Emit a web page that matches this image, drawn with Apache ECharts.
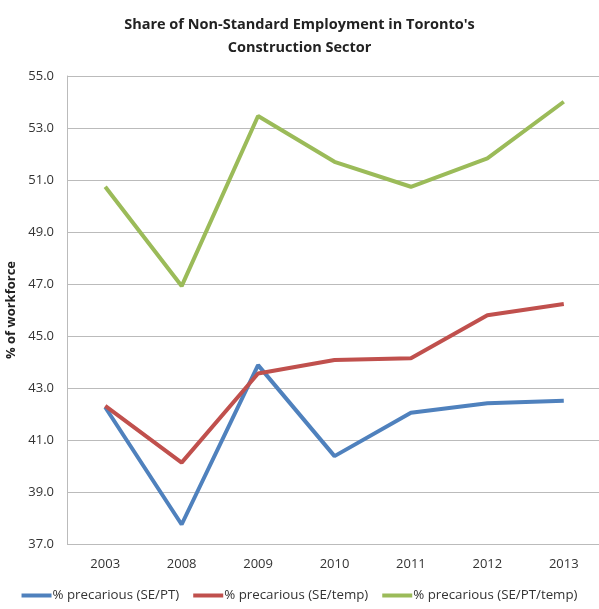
<!DOCTYPE html>
<html><head><meta charset="utf-8">
<script src="https://cdn.jsdelivr.net/npm/echarts@6/dist/echarts.min.js"></script>
<style>html,body{margin:0;padding:0;background:#fff}#c{width:599px;height:609px}</style>
</head><body><div id="c"></div>
<script>
const years = ['2003','2008','2009','2010','2011','2012','2013'];
const sePT = [42.26, 37.75, 43.88, 40.38, 42.05, 42.41, 42.51];
const seTemp = [42.31, 40.13, 43.56, 44.08, 44.14, 45.80, 46.23];
const sePTTemp = [50.74, 46.92, 53.46, 51.70, 50.74, 51.83, 54.01];
const names = ['% precarious (SE/PT)', '% precarious (SE/temp)', '% precarious (SE/PT/temp)'];
const colors = ['#4F81BD', '#C0504D', '#9BBB59'];
const font = '"Open Sans", Lato, sans-serif';
const chart = echarts.init(document.getElementById('c'));
const mk = (n, d, c) => ({name: n, type: 'line', data: d, symbol: 'none',
  lineStyle: {width: 4, color: c}, itemStyle: {color: c}});
chart.setOption({
  animation: false,
  title: {text: "Share of Non-Standard Employment in Toronto's\nConstruction Sector", left: 'center', top: 8,
    textStyle: {fontFamily: font, fontSize: 14.5, fontWeight: 'bold', color: '#222', lineHeight: 23}},
  grid: {left: 67, width: 535, top: 76, height: 468, outerBoundsMode: 'none', containLabel: false},
  xAxis: {type: 'category', data: years, boundaryGap: true,
    axisLine: {show: false}, axisTick: {show: false},
    axisLabel: {fontFamily: font, fontSize: 13, color: '#333', margin: 14}},
  yAxis: {type: 'value', min: 37, max: 55, interval: 2,
    name: '% of workforce', nameLocation: 'middle', nameGap: 36, nameRotate: 90,
    nameTextStyle: {fontFamily: font, fontSize: 13, fontWeight: 'bold', color: '#222'},
    axisLine: {show: true, lineStyle: {color: '#bbb', width: 1}}, axisTick: {show: false},
    axisLabel: {fontFamily: font, fontSize: 13, color: '#333', margin: 13, formatter: v => v.toFixed(1)},
    splitLine: {lineStyle: {color: '#bbb', width: 1.2}}},
  legend: {bottom: 2, left: 'center', itemWidth: 30, itemHeight: 4, itemGap: 14, icon: 'rect',
    textStyle: {fontFamily: font, fontSize: 13.3, color: '#333', padding: [0, 0, 0, -4]}, data: names},
  series: [mk(names[0], sePT, colors[0]), mk(names[1], seTemp, colors[1]), mk(names[2], sePTTemp, colors[2])]
});
</script></body></html>
